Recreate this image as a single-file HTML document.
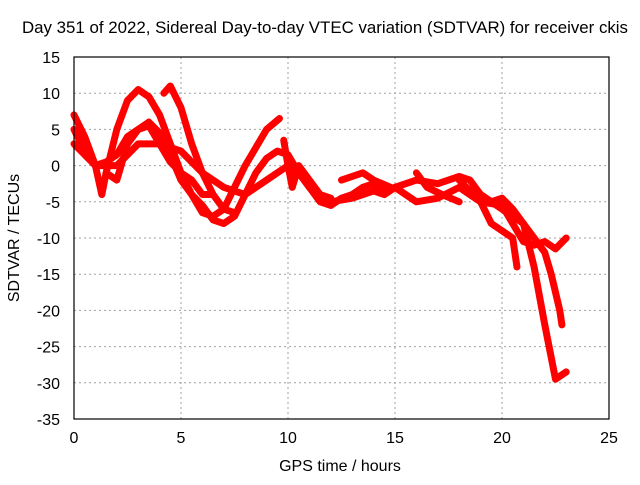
<!DOCTYPE html>
<html><head><meta charset="utf-8"><style>
body{margin:0;background:#fff;}
svg text{font-family:"Liberation Sans",sans-serif;font-size:16px;fill:#000;}
</style></head><body>
<svg id="chart" width="640" height="480" xmlns="http://www.w3.org/2000/svg">
<rect width="640" height="480" fill="#fff"/>
<text x="325" y="33" text-anchor="middle" textLength="606" lengthAdjust="spacingAndGlyphs" style="font-size:16.5px">Day 351 of 2022, Sidereal Day-to-day VTEC variation (SDTVAR) for receiver ckis</text>
<g id="grid"></g>
<g id="series"></g>
<rect x="74" y="57" width="535" height="362" fill="none" stroke="#000" stroke-width="1.2"/>
<g id="ticks"></g>
<text x="340" y="471" text-anchor="middle">GPS time / hours</text>
<text transform="translate(19,238) rotate(-90)" text-anchor="middle">SDTVAR / TECUs</text>
</svg>
<script>
const xTicks=[0,5,10,15,20,25];
const yTicks=[15,10,5,0,-5,-10,-15,-20,-25,-30,-35];
const sA_x=[0,0.5,1,1.3,1.5,2,2.5,3,3.5,4,4.5,5,5.5,6,6.5,7,7.5,8,8.5,9,9.6];
const sA_y=[7,4,0,-4,-1,5,9,10.5,9.5,7,3,-1,-4,-6.5,-7,-6,-3,0,2.5,5,6.5];
const sB_x=[0,0.5,1,1.5,2,2.5,3,3.5,4,4.5,5,5.5,6,6.5,7,7.5,8,8.5,9,9.5,10,10.5,11,11.5,12,12.5,13,13.5,14,14.5];
const sB_y=[5,2,0,0.5,1.5,4,5,6,4.5,1.5,-2,-4,-5.5,-7.5,-8,-7,-4,-1,1,2,1.5,-1,-3,-5,-5.5,-4.5,-4,-3,-2.5,-3.5];
const sC_x=[4.2,4.5,5,5.5,6,6.5,7,7.5];
const sC_y=[10,11,8,3,-1,-4,-6,-6.5];
const sD_x=[1.5,2,2.5,3,3.5,4,4.5,5,5.5,6,6.5];
const sD_y=[-1,-2,3,5,5.5,3,0.5,-1,-2,-4,-4];
const sE_x=[0,1,2,3,4,5,6,7,8,8.5,9,10,10.5,11,11.5,12,13,14,14.5,15,15.5,16,17,18,18.5,19,20,20.5,21,21.5,22,22.5,23];
const sE_y=[3,0,0,3,3,2,-1,-3,-4,-3,-2,0,-1,-3,-4.5,-5,-4.5,-3.5,-4,-3,-4,-5,-4.5,-3,-4,-5,-5.5,-8,-10.5,-11,-10.5,-11.5,-10];
const sF_x=[15,16,17,18,18.5,19,19.5,20,20.5,21,21.5,22,22.5,23];
const sF_y=[-3,-2,-2.5,-1.5,-2,-4,-5,-4.5,-6,-8,-14,-22,-29.5,-28.5];
const sG_x=[18,19,19.5,20,20.5,20.7];
const sG_y=[-2,-5,-8,-9,-10,-14];
const sH_x=[19,20,21,21.5,22,22.3,22.7,22.8];
const sH_y=[-4,-6,-8,-10,-12,-15,-20,-22];
const sI_x=[12.5,13.5,14,14.8];
const sI_y=[-2,-1,-2,-3];
const sJ_x=[9.8,10,10.2,10.5,11,11.5,12];
const sJ_y=[3.5,0,-3,0,-2,-4,-4.5];
const sK_x=[16,16.5,17.2,18];
const sK_y=[-1,-3,-4,-5];
const seriesX=[sA_x,sB_x,sC_x,sD_x,sE_x,sF_x,sG_x,sH_x,sI_x,sJ_x,sK_x];
const seriesY=[sA_y,sB_y,sC_y,sD_y,sE_y,sF_y,sG_y,sH_y,sI_y,sJ_y,sK_y];
const X=v=>74+v*(535/25);
const Y=v=>57+(15-v)*(362/50);
const NS="http://www.w3.org/2000/svg";
const grid=document.getElementById('grid'),ticks=document.getElementById('ticks'),ser=document.getElementById('series');
function mk(t,a,p){const e=document.createElementNS(NS,t);for(const k in a)e.setAttribute(k,a[k]);p.appendChild(e);return e;}
xTicks.forEach(v=>{
 if(v>0&&v<25){const g=mk('line',{x1:X(v),x2:X(v),y1:57,y2:419,stroke:'#a0a0a0','stroke-dasharray':'2,3'},grid);
 
 }
 const t=mk('text',{x:X(v),y:443,'text-anchor':'middle'},ticks);t.textContent=v;
 
 
});
yTicks.forEach(v=>{
 if(v<15&&v>-35){const g=mk('line',{x1:74,x2:609,y1:Y(v),y2:Y(v),stroke:'#a0a0a0','stroke-dasharray':'2,3'},grid);
 
 }
 const t=mk('text',{x:60,y:Y(v)+6,'text-anchor':'end'},ticks);t.textContent=v;
 
 
});
seriesX.forEach((xs,i)=>{
 const pts=xs.map((x,j)=>X(x)+','+Y(seriesY[i][j])).join(' ');
 const p=mk('polyline',{points:pts,fill:'none',stroke:'#ff0000','stroke-width':7,'stroke-linejoin':'round','stroke-linecap':'round'},ser);
 
 
});
</script>
</body></html>
